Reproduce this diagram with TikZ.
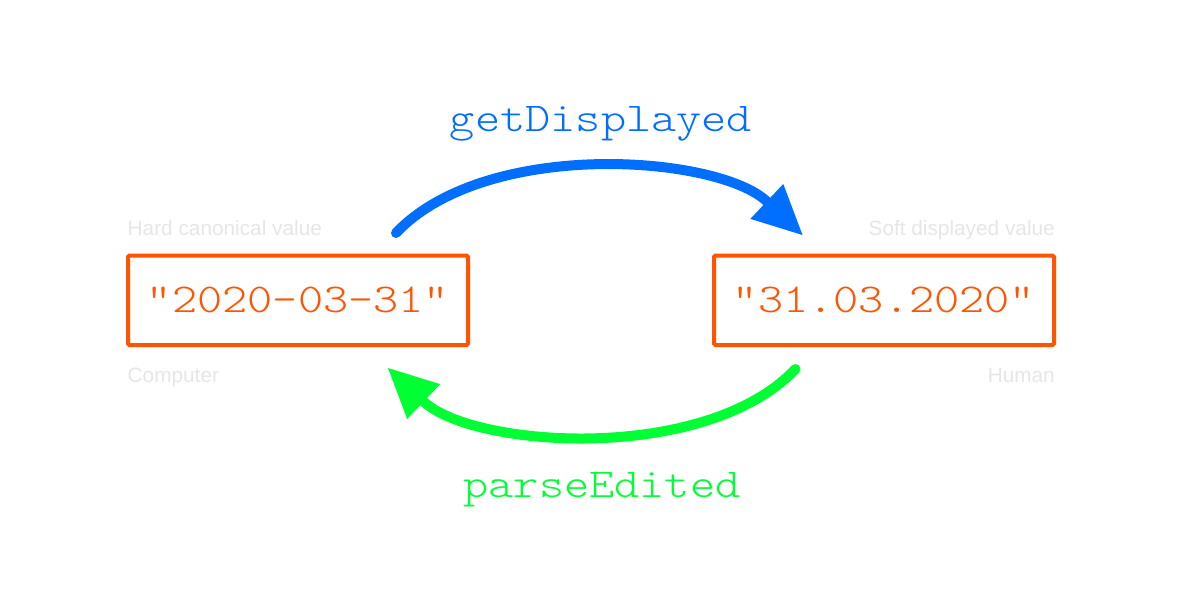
\documentclass[tikz,border=0pt]{standalone}
\usepackage{fontspec}
\setmainfont{Liberation Sans}
\newfontfamily\codefont[FakeStretch=1.17]{Latin Modern Mono Light}
\usepackage{tikz}
\usetikzlibrary{arrows.meta,positioning,calc}
\definecolor{orange}{HTML}{FF5500}
\definecolor{blue}{HTML}{006EFF}
\definecolor{green}{HTML}{00FF33}
\definecolor{lightgray}{HTML}{E6E6E6}
\tikzset{
  valuebox/.style={
    rounded corners=1.5pt,draw=orange,line width=4pt,outer sep=0pt,
    minimum width=340pt,minimum height=89.5pt,inner sep=0pt,
    text=orange,font=\codefont\fontsize{41}{48}\selectfont
  },
  caption/.style={
    inner sep=0pt,text=lightgray,font=\fontsize{20.8}{24}\selectfont
  },
  funclabel/.style={
    inner sep=0pt,anchor=base,font=\codefont\fontsize{41}{48}\selectfont
  },
  convert/.style={-{Triangle[length=49pt,width=48pt,line width=0pt]},line width=10pt,line cap=round}
}
\begin{document}
\begin{tikzpicture}[x=1pt,y=-1pt]
\useasboundingbox (0,0) rectangle (1200,600);
\node[valuebox] (canon) at (298,300.25) {"2020-03-31"};
\node[valuebox,right=246pt of canon] (disp) {"31.03.2020"};
\node[caption,anchor=base west] (hardlab) at ($(canon.north west)+(-0.5,-20)$) {Hard canonical value};
\node[caption,anchor=base west] (complab) at ($(canon.south west)+(-0.5,37)$) {Computer};
\node[caption,anchor=base east] (softlab) at ($(disp.north east)+(1,-20)$) {Soft displayed value};
\node[caption,anchor=base east] (humanlab) at ($(disp.south east)+(1,37)$) {Human};
\coordinate (gdstart) at ($(canon.north)+(98,-22.5)$);
\coordinate (gdend) at ($(disp.north)+(-81.5,-20.5)$);
\coordinate (pestart) at ($(disp.south)+(-88.5,24)$);
\coordinate (peend) at ($(canon.south)+(90,23)$);
\draw[convert,draw=blue] (gdstart) .. controls +(90,-95) and +(-85,-80) .. (gdend);
\draw[convert,draw=green] (pestart) .. controls +(-90,95) and +(85,80) .. (peend);
\node[funclabel,text=blue] (getlab) at (601,131) {getDisplayed};
\node[funclabel,text=green] (parselab) at (602,497) {parseEdited};
\end{tikzpicture}
\end{document}
